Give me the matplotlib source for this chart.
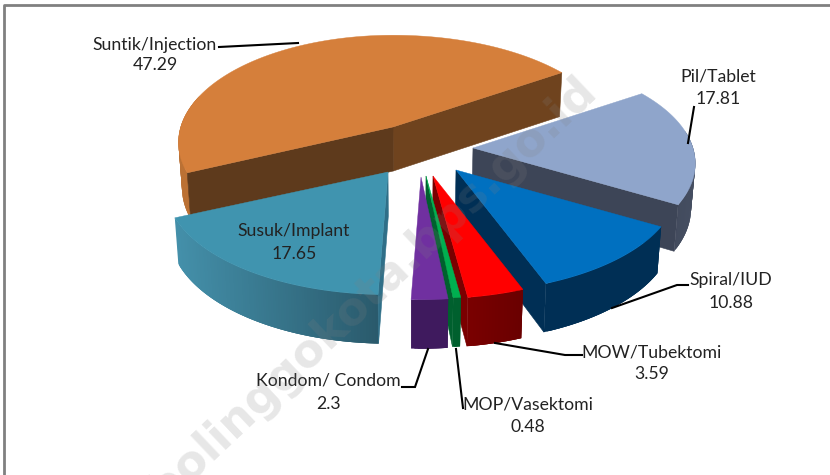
import numpy as np
import matplotlib
matplotlib.use("Agg")
import matplotlib.pyplot as plt
from matplotlib.patches import Polygon

categories = ["Suntik/Injection", "Pil/Tablet", "Spiral/IUD", "MOW/Tubektomi",
              "MOP/Vasektomi", "Kondom/ Condom", "Susuk/Implant"]
values = [47.29, 17.81, 10.88, 3.59, 0.48, 2.3, 17.65]
value_labels = ["47.29", "17.81", "10.88", "3.59", "0.48", "2.3", "17.65"]

# styling / layout per slice
tips = [(393, 127), (473, 148), (456, 170), (433, 176), (426, 176), (421, 177), (388, 172)]
left_squeeze = [0.965, 1, 1, 1, 1, 1, 1]
top_colors = ["#D57F3B", "#8FA5CB", "#0070C0", "#FF0000", "#00B050", "#7030A0", "#4094AF"]
wall_colors = ["#5E3A1C", "#3D4557", "#002F55", "#7A0000", "#00602E", "#3F1A5E", "#2F6F88"]
rim_left = ["#BB7134", "#3D4557", "#002F55", "#7A0000", "#00602E", "#3F1A5E", "#4490AA"]
rim_right = ["#A96630", "#454E61", "#002F55", "#6A0000", "#00602E", "#3F1A5E", "#2A5A6C"]
draw_order = [0, 1, 2, 6, 3, 4, 5]
label_pos = [(155, 45, 65), (718, 77, 99), (731, 280, 303), (652, 352, 374),
             (528, 404, 427), (328, 381, 404), (294, 231, 254)]
leaders = [[(219, 47), (298, 43)],
           [(688, 143), (694, 107)],
           [(612, 308), (677, 285), (688, 285)],
           [(495, 343), (565, 355), (582, 355)],
           [(456, 349), (463, 408)],
           [(428, 349), (415, 387), (402, 387)]]

RX, RY, K = 220, 105, 0.144
START = 34.0


def rim_xy(th, tip, squeeze=1.0):
    t = np.radians(th)
    p = 1 / (1 + K * np.sin(t))
    c = np.cos(t)
    return tip[0] + RX * c * p * (squeeze if c < 0 else 1), tip[1] - RY * np.sin(t) * p


def depth(th=None):
    if th is None:
        return 44
    return 44 + 5 * max(0, -np.sin(np.radians(th)))


def lower(pt, d):
    return pt[0] + (410 - pt[0]) * 0.015, pt[1] + d


def mix(c1, c2, f):
    a = np.array(matplotlib.colors.to_rgb(c1))
    b = np.array(matplotlib.colors.to_rgb(c2))
    return tuple(a + (b - a) * f)


plt.rcParams["font.family"] = ["Lato", "DejaVu Sans"]
fig = plt.figure(figsize=(8.3, 4.75), dpi=100)
ax = fig.add_axes([0, 0, 1, 1])
ax.set_xlim(0, 830)
ax.set_ylim(475, 0)
ax.axis("off")

total = sum(values)
sweeps = [v / total * 360 for v in values]
extents = [(START, START + sweeps[0])]
cur = START
for s in sweeps[1:]:
    extents.append((cur - s, cur))
    cur -= s

for i in draw_order:
    lo, hi = extents[i]
    tip = tips[i]
    ths = np.linspace(lo, hi, max(8, int((hi - lo) * 1.5)))
    arc = [rim_xy(t, tip, left_squeeze[i]) for t in ths]
    # outer rim: overlapping quads painted in sequence so no seams show
    xs = [a[0] for a in arc]
    xmin, xmax = min(xs), max(xs)
    n = len(ths)
    for j in range(n - 1):
        k = min(j + 3, n - 1)
        mth = np.radians((ths[j] + ths[j + 1]) / 2)
        if np.sin(mth) < 0 or (i == 0 and np.cos(mth) < -0.95) or (i == 1 and np.cos(mth) > 0.99):
            f = ((arc[j][0] + arc[j + 1][0]) / 2 - xmin) / max(xmax - xmin, 1)
            col = mix(rim_left[i], rim_right[i], f)
            upper = arc[j:k + 1]
            bottom = [lower(arc[m], depth(ths[m])) for m in range(k, j - 1, -1)]
            ax.add_patch(Polygon(upper + bottom, closed=True, fc=col, ec="none", lw=0, zorder=2))
    # walls of the two inner cuts
    for th, end in ((lo, arc[0]), (hi, arc[-1])):
        ex, ey = end[0] - tip[0], end[1] - tip[1]
        mx, my = np.mean(xs) - tip[0], np.mean([a[1] for a in arc]) - tip[1]
        nx, ny = -ey, ex
        if nx * mx + ny * my > 0:
            nx, ny = -nx, -ny
        if ny > 0:
            col = wall_colors[i]
            if i == 0 and th == lo:
                col = "#6F431E"
            quad = [tip, end, lower(end, depth(th)), lower(tip, depth())]
            ax.add_patch(Polygon(quad, closed=True, fc=col, ec=col, lw=0.4, zorder=2))
    ax.add_patch(Polygon([tip] + arc, closed=True, fc=top_colors[i], ec=top_colors[i], lw=0.3, zorder=2))

# leader lines
for pts in leaders:
    ax.plot([p[0] for p in pts], [p[1] for p in pts], color="black", lw=1.5, zorder=3,
            solid_joinstyle="miter")

# labels
for name, val, (x, y1, y2) in zip(categories, value_labels, label_pos):
    ax.text(x, y1, name, ha="center", va="center", fontsize=12.7, color="#222222", zorder=4)
    ax.text(x, y2, val, ha="center", va="center", fontsize=12.7, color="#222222", zorder=4)

# watermark
ax.text(590, 84, "probolinggokota.bps.go.id", rotation=43.5, rotation_mode="anchor",
        ha="right", va="center", fontsize=33, fontweight="bold", color="#808080",
        alpha=0.19, zorder=5, family="DejaVu Sans", clip_on=True)

# screenshot frame
ax.plot([3.5, 3.5, 830], [475, 4.5, 4.5], color="#808080", lw=2, zorder=6)

fig.savefig("out.png", dpi=100)
